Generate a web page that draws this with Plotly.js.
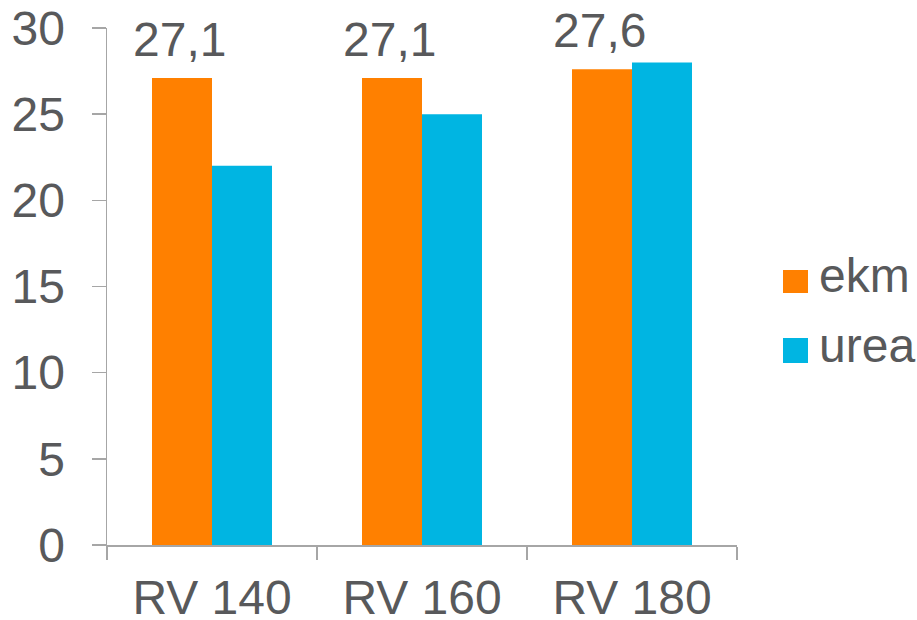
<!DOCTYPE html>
<html>
<head>
<meta charset="utf-8">
<script src="https://cdn.plot.ly/plotly-3.0.1.min.js"></script>
<style>html,body{margin:0;padding:0;background:#fff;}#chart{width:917px;height:620px;}</style>
</head>
<body>
<div id="chart"></div>
<script>
var categories = ["RV 140", "RV 160", "RV 180"];
var seriesNames = ["ekm", "urea"];
var ekm = [27.1, 27.1, 27.6];
var urea = [22, 25, 28];
var yTicks = [0, 5, 10, 15, 20, 25, 30];

var colors = ["#FF8000", "#00B5E2"];
var textColor = "#58595B";
var axisColor = "#A6A6A6";
var fontFamily = "Liberation Sans, Arial, sans-serif";
var fs = 48;

var traces = [
  {type: "bar", name: seriesNames[0], x: categories, y: ekm, marker: {color: colors[0]}, hoverinfo: "none"},
  {type: "bar", name: seriesNames[1], x: categories, y: urea, marker: {color: colors[1]}, hoverinfo: "none"}
];

function fmt(v) { return v.toFixed(1).replace(".", ","); }

var annotations = categories.map(function (c, i) {
  return {
    x: c, y: ekm[i], xref: "x", yref: "y",
    text: fmt(ekm[i]), showarrow: false,
    xanchor: "center", yanchor: "bottom",
    xshift: -33, yshift: 10,
    font: {family: fontFamily, size: fs, color: textColor}
  };
});

// legend drawn as shapes + text
var legendY = [[0.4874, 0.5319], [0.352, 0.4004]];
var legendTextY = [0.467, 0.3317];
var shapes = [];
seriesNames.forEach(function (n, i) {
  shapes.push({type: "rect", xref: "paper", yref: "paper", x0: 1.073, x1: 1.1127,
    y0: legendY[i][0], y1: legendY[i][1], fillcolor: colors[i], line: {width: 0}});
  annotations.push({x: 1.127, y: legendTextY[i], xref: "paper", yref: "paper",
    text: n, showarrow: false, xanchor: "left", yanchor: "bottom",
    font: {family: fontFamily, size: fs, color: textColor}});
});

var layout = {
  width: 917, height: 620,
  margin: {l: 107, r: 180, t: 28, b: 75, pad: 0},
  paper_bgcolor: "#fff", plot_bgcolor: "#fff",
  showlegend: false,
  barmode: "group", bargap: 0.4286, bargroupgap: 0,
  font: {family: fontFamily, size: fs, color: textColor},
  xaxis: {
    type: "category", showline: true, linecolor: axisColor, linewidth: 1.5,
    ticks: "outside", tickson: "boundaries", ticklen: 13, tickcolor: axisColor, tickwidth: 1.5,
    showgrid: false, zeroline: false, ticklabelstandoff: 10,
    tickfont: {family: fontFamily, size: fs, color: textColor}
  },
  yaxis: {
    range: [0, 30], tickvals: yTicks, ticktext: yTicks.map(String),
    showline: true, linecolor: axisColor, linewidth: 1.5,
    ticks: "outside", ticklen: 14, tickcolor: axisColor, tickwidth: 1.5,
    showgrid: false, zeroline: false, ticklabelstandoff: 17,
    tickfont: {family: fontFamily, size: fs, color: textColor}
  },
  annotations: annotations,
  shapes: shapes
};

Plotly.newPlot("chart", traces, layout, {displayModeBar: false, staticPlot: true});
</script>
</body>
</html>
